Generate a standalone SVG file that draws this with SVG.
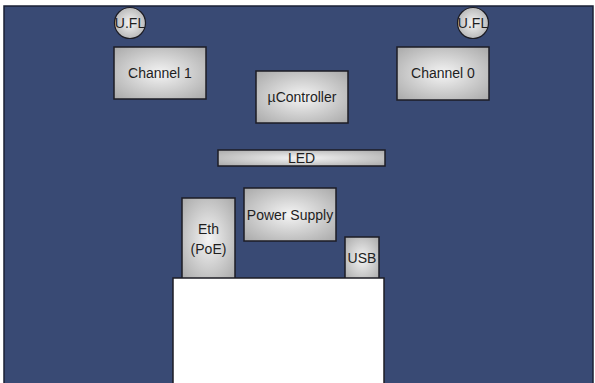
<svg xmlns="http://www.w3.org/2000/svg" width="595" height="383" viewBox="0 0 595 383">
<defs>
<radialGradient id="g" cx="50%" cy="50%" r="70%">
<stop offset="0" stop-color="#f4f4f4"/>
<stop offset="1" stop-color="#a9a9a9"/>
</radialGradient>
<radialGradient id="gc" cx="50%" cy="50%" r="55%">
<stop offset="0" stop-color="#f6f6f6"/>
<stop offset="1" stop-color="#b4b4b4"/>
</radialGradient>
</defs>
<style>
.box{fill:url(#g);stroke:#1c1c24;stroke-width:1.5}
.c{fill:url(#gc);stroke:#1c1c24;stroke-width:1.2}
text{font-family:"Liberation Sans",Arial,sans-serif;font-size:14px;fill:#1e1e1e;text-anchor:middle}
</style>
<rect x="0" y="0" width="595" height="383" fill="#ffffff"/>
<rect x="4" y="6" width="589" height="380" fill="#394a74" stroke="#1a2035" stroke-width="1.5"/>
<g id="ufl1"><circle class="c" cx="130" cy="23" r="15.5"/><text x="130" y="28" font-size="13">U.FL</text></g>
<g id="ufl0"><circle class="c" cx="473" cy="23" r="15.5"/><text x="473" y="28" font-size="13">U.FL</text></g>
<g id="ch1"><rect class="box" x="114" y="47" width="92" height="52"/><text x="160" y="78">Channel 1</text></g>
<g id="ch0"><rect class="box" x="397" y="47" width="92" height="53"/><text x="443" y="78">Channel 0</text></g>
<g id="uc"><rect class="box" x="256" y="71" width="92" height="52"/><text x="302" y="102">µController</text></g>
<g id="led"><rect class="box" x="218" y="150" width="167" height="16"/><text x="301.5" y="163">LED</text></g>
<g id="ps"><rect class="box" x="244" y="188" width="92" height="53"/><text x="290" y="220">Power Supply</text></g>
<g id="eth"><rect class="box" x="182" y="198" width="53" height="82"/><text x="208.5" y="234">Eth</text><text x="208.5" y="254">(PoE)</text></g>
<g id="usb"><rect class="box" x="345" y="237" width="34" height="43"/><text x="362" y="263">USB</text></g>
<g id="board"><rect x="173" y="278" width="211" height="110" fill="#ffffff" stroke="#1c1c24" stroke-width="1.5"/></g>
<g id="connectors"/>
</svg>
